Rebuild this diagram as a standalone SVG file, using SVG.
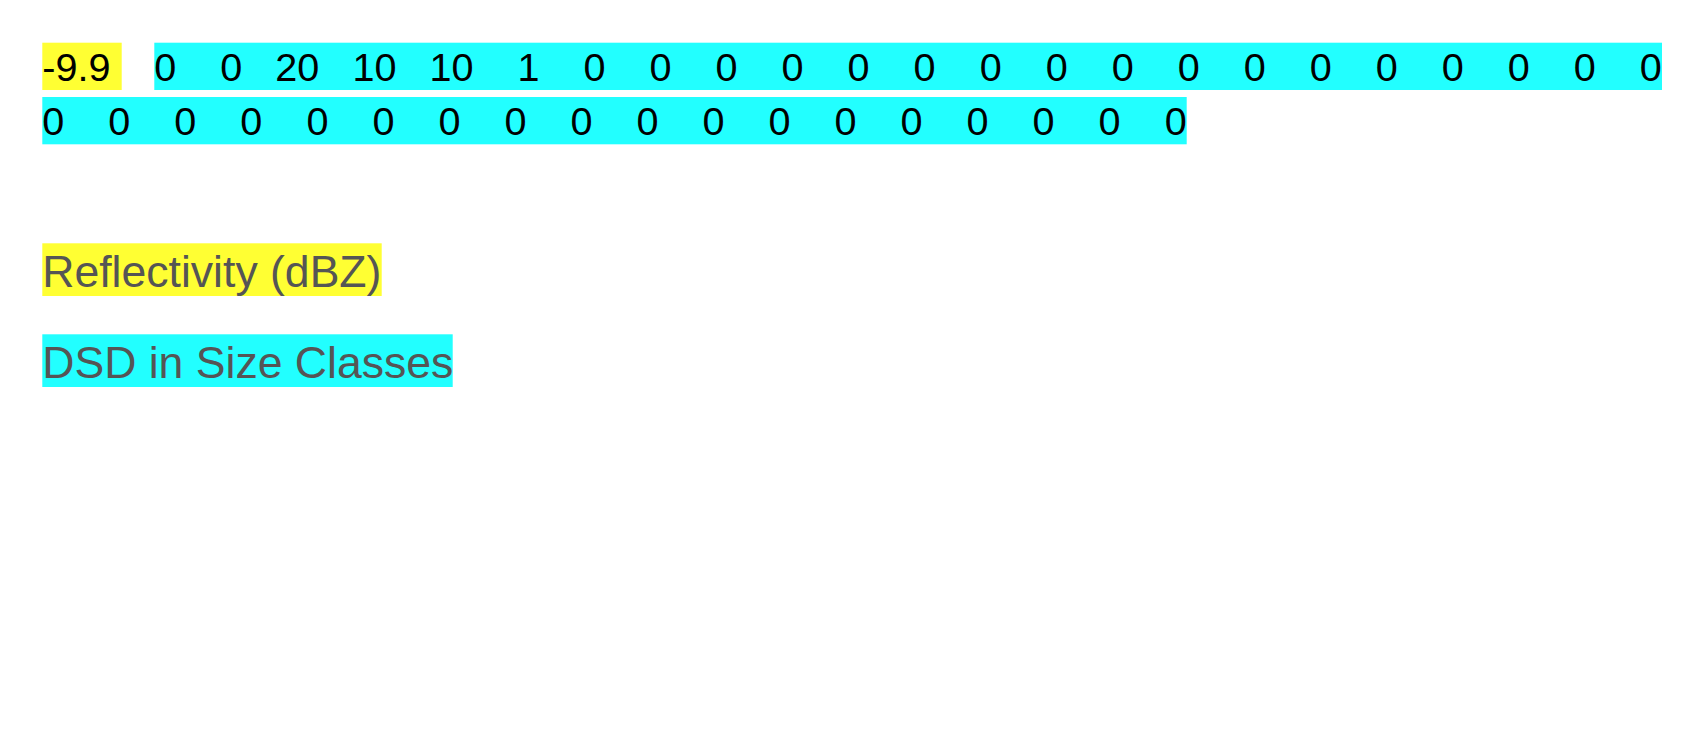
<svg xmlns="http://www.w3.org/2000/svg" width="1698" height="748" viewBox="0 0 1698 748">
  <style>
    .y { fill: #ffff33; }
    .c { fill: #22ffff; }
    .num { font-family: "Liberation Sans", Arial, sans-serif; font-size: 39.6px; fill: #000000; }
    .lbl { font-family: "Liberation Sans", Arial, sans-serif; font-size: 44.55px; fill: #555555; }
  </style>
  <rect width="1698" height="748" fill="#ffffff"/>
  <g id="reflectivity-value">
    <rect class="y" x="42.3" y="42.7" width="79.4" height="47.3"/>
    <text class="num" x="42.3" y="81.3">-9.9</text>
  </g>
  <g id="dsd-values">
    <rect class="c" x="154.3" y="42.7" width="1507.7" height="47.3"/>
    <rect class="c" x="42.3" y="97" width="1144.4" height="47.3"/>
    <text class="num" y="81.3">
      <tspan x="154.3">0</tspan><tspan x="220.32">0</tspan><tspan x="275.34">20</tspan><tspan x="352.39">10</tspan><tspan x="429.44">10</tspan><tspan x="517.49">1</tspan><tspan x="583.51">0</tspan><tspan x="649.53">0</tspan><tspan x="715.55">0</tspan><tspan x="781.57">0</tspan><tspan x="847.59">0</tspan><tspan x="913.61">0</tspan><tspan x="979.63">0</tspan><tspan x="1045.65">0</tspan><tspan x="1111.67">0</tspan><tspan x="1177.69">0</tspan><tspan x="1243.71">0</tspan><tspan x="1309.73">0</tspan><tspan x="1375.75">0</tspan><tspan x="1441.77">0</tspan><tspan x="1507.79">0</tspan><tspan x="1573.81">0</tspan><tspan x="1639.83">0</tspan>
    </text>
    <text class="num" y="135">
      <tspan x="42.3">0</tspan><tspan x="108.32">0</tspan><tspan x="174.34">0</tspan><tspan x="240.36">0</tspan><tspan x="306.38">0</tspan><tspan x="372.4">0</tspan><tspan x="438.42">0</tspan><tspan x="504.44">0</tspan><tspan x="570.46">0</tspan><tspan x="636.48">0</tspan><tspan x="702.5">0</tspan><tspan x="768.52">0</tspan><tspan x="834.54">0</tspan><tspan x="900.56">0</tspan><tspan x="966.58">0</tspan><tspan x="1032.6">0</tspan><tspan x="1098.62">0</tspan><tspan x="1164.64">0</tspan>
    </text>
  </g>
  <g id="legend-reflectivity">
    <rect class="y" x="42.3" y="243.3" width="339.4" height="52.7"/>
    <text class="lbl" x="42.3" y="286.7">Reflectivity (dBZ)</text>
  </g>
  <g id="legend-dsd">
    <rect class="c" x="42.3" y="334.3" width="410.4" height="52.7"/>
    <text class="lbl" x="42.3" y="377.7">DSD in Size Classes</text>
  </g>
</svg>
